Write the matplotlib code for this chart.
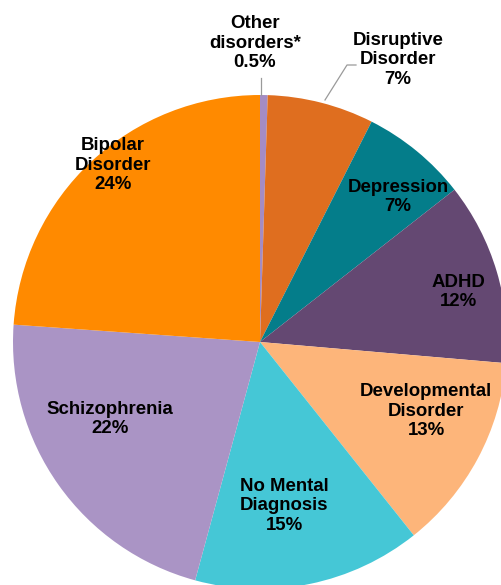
import matplotlib
matplotlib.use("Agg")
import matplotlib.pyplot as plt

categories = ["Other\ndisorders*", "Disruptive\nDisorder", "Depression", "ADHD",
              "Developmental\nDisorder", "No Mental\nDiagnosis", "Schizophrenia",
              "Bipolar\nDisorder"]
values = [0.5, 7, 7, 12, 13, 15, 22, 24]
pct_labels = ["0.5%", "7%", "7%", "12%", "13%", "15%", "22%", "24%"]
colors = ["#A48CC4", "#DF6E1F", "#047D8A", "#644872", "#FDB57A", "#45C7D6",
          "#AA94C5", "#FF8A00"]

W, H = 501, 585
CX, CY, R = 260, 342, 247

fig = plt.figure(figsize=(W / 100, H / 100), dpi=100)
ax = fig.add_axes([0, 0, 1, 1])

ax.pie(values, colors=colors, startangle=90, counterclock=False, radius=1,
       center=(0, 0), wedgeprops=dict(linewidth=0), frame=False)
ax.set_xlim(-CX / R, (W - CX) / R)
ax.set_ylim(-(H - CY) / R, CY / R)
ax.set_aspect("equal")
ax.axis("off")


def px(x, y):
    return (x - CX) / R, (CY - y) / R


label_pos = [(255, 43), (398, 60), (398, 197), (458, 292), (426, 411),
             (284, 506), (110, 419), (113, 165)]
for cat, p, (lx, ly) in zip(categories, pct_labels, label_pos):
    x, y = px(lx, ly)
    ax.text(x, y, f"{cat}\n{p}", ha="center", va="center", fontsize=13.4,
            fontweight="bold", family=["Liberation Sans", "DejaVu Sans"],
            linespacing=1.2, color="black")

# leader lines
lc = "#9A9A9A"
ax.plot(*zip(px(261, 95), px(261, 78)), color=lc, lw=0.9)
ax.plot(*zip(px(325, 100), px(347, 65), px(356, 65)), color=lc, lw=0.9)

fig.savefig("out.png", dpi=100)
